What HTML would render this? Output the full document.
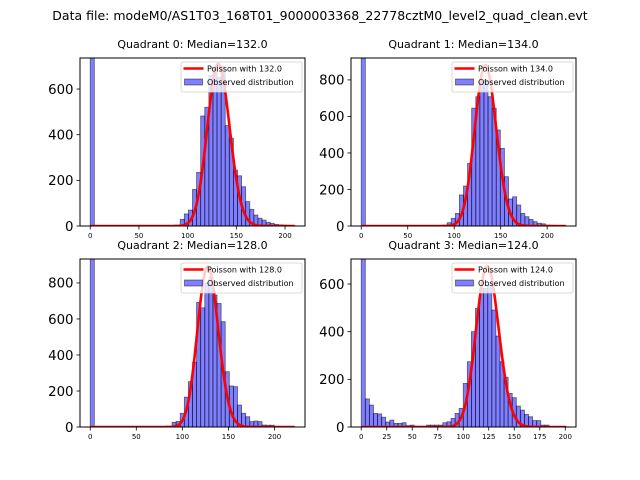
<!DOCTYPE html>
<html><head><meta charset="utf-8"><style>
body{margin:0;background:#fff}
svg{display:block;font-family:"DejaVu Sans","Liberation Sans",sans-serif}
</style></head><body>
<svg id="fig" width="640" height="480" viewBox="0 0 640 480" xmlns="http://www.w3.org/2000/svg">
<rect width="640" height="480" fill="#fff"/>
<text x="320" y="20" font-size="12.5" text-anchor="middle" fill="#000">Data file: modeM0/AS1T03_168T01_9000003368_22778cztM0_level2_quad_clean.evt</text>
</svg>
<script>
const quadNames = ["0","1","2","3"];
const medians = [132.0, 134.0, 128.0, 124.0];
const binWidths = [4.2, 4.4, 4.44, 4.0];
const counts0 = [5000,0,0,0,0,0,0,0,0,0,0,0,0,0,0,0,0,0,0,0,0,3,29,53,70,160,235,482,520,660,690,650,700,440,385,245,220,172,107,73,48,34,26,16,12,7,5,4,3,2];
const counts1 = [5000,0,0,0,0,0,0,0,0,0,0,0,0,0,0,0,0,0,0,0,2,18,42,69,170,219,343,645,708,790,800,708,645,526,425,270,148,160,115,69,51,36,24,15,12,5,4,3,2,2];
const counts2 = [5000,0,0,0,0,0,0,0,0,0,0,0,0,0,0,0,0,0,0,0,26,31,76,166,252,360,692,662,800,830,733,686,585,307,228,224,122,76,57,30,33,30,11,10,10,2,2,1,0,0];
const counts3 = [5000,118,92,57,55,41,21,29,15,15,18,6,8,3,3,3,8,8,8,8,18,22,36,57,78,183,274,400,498,582,582,596,491,382,274,209,141,123,88,71,53,43,27,27,8,8,2,2,1,1];
const countsAll = [counts0, counts1, counts2, counts3];
const curvePeaks = [710, 880, 890, 675];
const xMaxData = [210, 220, 222, 200.5];
const yMax = [736, 920, 933, 705];
const yTicks0 = [0,200,400,600];
const yTicks1 = [0,200,400,600,800];
const yTicks2 = [0,200,400,600,800];
const yTicks3 = [0,200,400,600];
const yTicksAll = [yTicks0, yTicks1, yTicks2, yTicks3];
const xTicksA = [0,50,100,150,200];
const xTicks3 = [0,25,50,75,100,125,150,175,200];
const xTicksAll = [xTicksA, xTicksA, xTicksA, xTicks3];

const NS = "http://www.w3.org/2000/svg";
const svg = document.getElementById("fig");
function mk(tag, attrs, parent){const e=document.createElementNS(NS,tag);for(const k in attrs)e.setAttribute(k,attrs[k]);(parent||svg).appendChild(e);return e;}
const boxes = [[80,58,225,168],[351,58,225,168],[80,259,225,168],[351,259,225,168]];
function logPois(k,l){
  let lf = k<2?0:(k*Math.log(k)-k+0.5*Math.log(2*Math.PI*k)+1/(12*k));
  return k*Math.log(l)-l-lf;
}
for(let q=0;q<4;q++){
  const [L,T,W,H]=boxes[q];
  const bw=binWidths[q], cs=countsAll[q];
  const xmin=-0.05*xMaxData[q], xmax=xMaxData[q]*1.05;
  const X=v=>L+(v-xmin)/(xmax-xmin)*W;
  const Y=v=>T+H-v/yMax[q]*H;
  const g=mk("g",{});
  
  
  const clip=mk("clipPath",{id:"c"+q},g);
  mk("rect",{x:L,y:T,width:W,height:H},clip);
  const bars=mk("g",{"clip-path":"url(#c"+q+")"},g);
  cs.forEach((c,i)=>{
    if(c<=0)return;
    const r=mk("rect",{x:X(i*bw),y:Y(c),width:X((i+1)*bw)-X(i*bw),height:Y(0)-Y(c),fill:"rgba(0,0,255,0.5)",stroke:"rgba(0,0,0,0.55)","stroke-width":"0.8"},bars);
    
    
  });
  const lam=medians[q], pk=Math.exp(logPois(Math.round(lam),lam));
  let d="";
  for(let k=0;k<=Math.ceil(xMaxData[q]);k++){
    const v=curvePeaks[q]*Math.exp(logPois(k,lam))/pk;
    d+=(k?"L":"M")+X(k).toFixed(2)+","+Y(v).toFixed(2);
  }
  const pc=mk("path",{d:d,fill:"none",stroke:"#ff0000","stroke-width":"2.6","stroke-linejoin":"round"},bars);
  
  
  const fr=mk("rect",{x:L,y:T,width:W,height:H,fill:"none",stroke:"#000","stroke-width":"1"},g);
  
  
  yTicksAll[q].forEach(t=>{
    mk("line",{x1:L-3.5,x2:L,y1:Y(t),y2:Y(t),stroke:"#000","stroke-width":"0.8"},g);
    const tx=mk("text",{x:L-6.5,y:Y(t)+4.8,"font-size":"13.3","text-anchor":"end"},g);
    tx.textContent=t;
    
    
  });
  xTicksAll[q].forEach(t=>{
    mk("line",{x1:X(t),x2:X(t),y1:T+H,y2:T+H+3.5,stroke:"#000","stroke-width":"0.8"},g);
    const tx=mk("text",{x:X(t),y:T+H+12,"font-size":"7","text-anchor":"middle"},g);
    tx.textContent=t;
    
    
  });
  const ti=mk("text",{x:L+W/2,y:T-10,"font-size":"11","text-anchor":"middle"},g);
  ti.textContent="Quadrant "+quadNames[q]+": Median="+medians[q].toFixed(1);
  
  
  const lg=mk("g",{},g);
  
  
  const lx=L+W-124, ly=T+4;
  mk("rect",{x:lx,y:ly,width:121,height:30,rx:2,fill:"rgba(255,255,255,0.8)",stroke:"#d0d0d0","stroke-width":"0.8"},lg);
  mk("line",{x1:lx+2.5,x2:lx+22.5,y1:ly+6.5,y2:ly+6.5,stroke:"#ff0000","stroke-width":"2.5"},lg);
  const t1=mk("text",{x:lx+26,y:ly+9.5,"font-size":"8"},lg);
  t1.textContent="Poisson with "+medians[q].toFixed(1);
  
  
  mk("rect",{x:lx+3.5,y:ly+17,width:18,height:6,fill:"rgba(0,0,255,0.5)",stroke:"rgba(0,0,0,0.55)","stroke-width":"0.8"},lg);
  const t2=mk("text",{x:lx+26,y:ly+23,"font-size":"8"},lg);
  t2.textContent="Observed distribution";
  
  
}
</script>
</body></html>
